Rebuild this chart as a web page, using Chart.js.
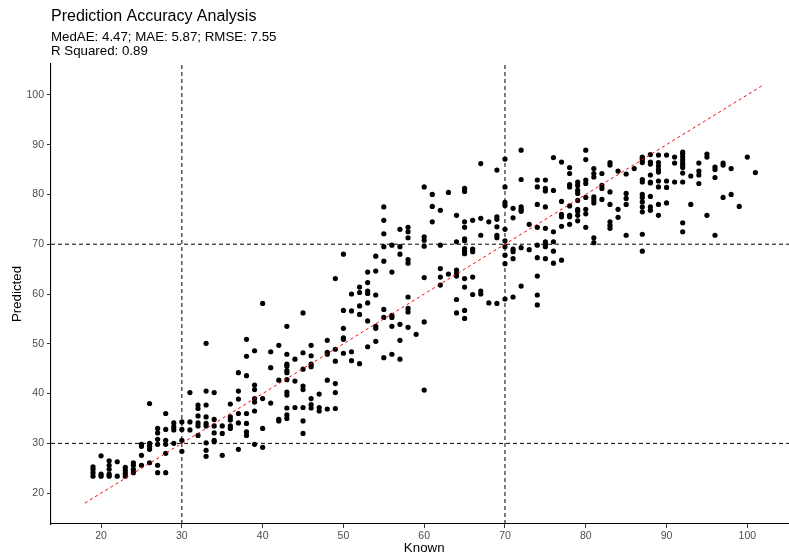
<!DOCTYPE html>
<html>
<head>
<meta charset="utf-8">
<title>Prediction Accuracy Analysis</title>
<script src="https://cdn.jsdelivr.net/npm/chart.js@4.4.1/dist/chart.umd.min.js"></script>
<style>
  html, body { margin: 0; padding: 0; background: #ffffff; overflow: hidden; }
  #wrap { width: 800px; height: 556px; }
  canvas { display: block; }
</style>
</head>
<body>
<div id="wrap"><canvas id="chart" width="800" height="556"></canvas></div>
<script>
// Known values (x) and the predictions recorded at each known value (y)
const knownLevels = [
  19, 20, 21, 22, 23, 24, 25, 26, 27, 28, 29, 30, 31, 32, 33, 34, 35, 36, 37, 38,
  39, 40, 41, 42, 43, 44, 45, 46, 47, 48, 49, 50, 51, 52, 53, 54, 55, 56, 57, 58,
  59, 60, 61, 62, 63, 64, 65, 66, 67, 68, 69, 70, 71, 72, 73, 74, 75, 76, 77, 78,
  79, 80, 81, 82, 83, 84, 85, 86, 87, 88, 89, 90, 91, 92, 93, 94, 95, 96, 97, 98,
  99, 100, 101
];

const predictedByKnown = [
  [25.3, 24.8, 24.1, 23.4],
  [27.5, 23.8, 23.4],
  [26.5, 25.6, 24.8, 23.8, 23.4],
  [26.3, 23.4],
  [25.2, 24.6, 24.0, 23.4],
  [26.1, 25.6, 24.8, 24.1],
  [29.8, 29.4, 27.6, 25.6],
  [38.0, 30.0, 29.4, 28.8, 26.1],
  [33.0, 32.1, 30.8, 29.8, 25.6, 24.1],
  [36.0, 32.8, 30.6, 29.8, 28.0, 24.1],
  [34.1, 33.3, 32.7, 30.0],
  [34.3, 32.8, 30.6, 28.4],
  [40.2, 34.3, 32.7],
  [37.7, 37.0, 35.5, 34.1, 33.5, 31.6],
  [50.1, 40.5, 37.7, 35.3, 34.0, 33.5, 30.1, 28.6, 27.4],
  [40.2, 34.8, 33.5, 32.1, 30.6, 30.3],
  [33.5, 32.0, 27.6],
  [37.9, 35.3, 34.7, 33.5, 33.0],
  [44.2, 40.5, 38.9, 36.0, 34.1, 28.8],
  [50.9, 47.5, 43.6, 36.0, 34.0, 32.3, 31.6],
  [48.6, 41.7, 40.8, 39.0, 38.3, 36.5, 29.8],
  [58.1, 39.0, 33.0, 29.2],
  [48.4, 45.2, 38.1],
  [49.7, 42.7, 34.8, 34.5],
  [53.5, 47.9, 45.9, 45.5, 44.6, 44.2, 42.8, 40.3, 39.7, 37.1, 35.7, 35.0],
  [46.9, 42.5, 37.2],
  [56.2, 48.2, 44.9, 41.5, 40.8, 37.2, 34.5, 32.0],
  [49.7, 47.6, 45.9, 45.4, 39.0, 37.8, 37.1],
  [39.9, 37.2, 36.5],
  [50.7, 48.3, 47.9, 42.7, 36.9],
  [63.1, 48.9, 46.5, 42.0, 40.2, 37.0],
  [68.0, 56.7, 53.1, 51.2, 50.9, 48.1],
  [60.0, 56.6, 48.4, 46.6],
  [61.4, 60.3, 57.6, 55.9, 46.0],
  [64.4, 62.3, 60.6, 60.1, 58.2, 54.6, 49.4],
  [67.6, 64.6, 59.8, 53.5, 53.1, 50.5],
  [77.5, 74.8, 72.1, 69.5, 66.6, 56.9, 55.3, 47.2],
  [69.8, 64.4, 55.7, 55.3, 53.5, 47.9],
  [73.0, 69.5, 68.0, 53.9, 50.7, 46.9],
  [73.4, 72.5, 71.3, 66.9, 66.2, 59.4, 57.1, 56.4, 53.3],
  [51.9],
  [81.5, 71.5, 70.8, 69.6, 63.3, 54.4, 40.7],
  [80.0, 77.6, 74.5],
  [76.8, 69.8, 65.1, 63.4, 61.8],
  [80.4, 64.0],
  [75.8, 70.5, 64.8, 64.1, 63.6, 58.9, 56.2],
  [81.2, 80.6, 74.5, 73.4, 71.1, 70.7, 69.1, 68.6, 68.1, 63.1, 61.4, 56.7, 55.1],
  [74.8, 69.0, 68.5, 63.4, 59.9],
  [86.2, 75.2, 71.8, 60.6, 60.0],
  [74.5, 58.2],
  [84.9, 75.5, 75.0, 73.5, 71.8, 71.3, 58.1],
  [87.1, 81.5, 78.4, 77.8, 73.0, 70.7, 69.5, 67.8, 66.1, 59.0],
  [77.2, 75.3, 69.0, 68.5, 67.1, 59.4],
  [88.9, 83.0, 77.5, 77.0, 76.6, 69.3, 61.6],
  [74.0, 68.9],
  [82.9, 81.5, 78.0, 73.4, 69.8, 67.3, 63.6, 59.8, 57.8],
  [82.9, 81.2, 80.7, 77.5, 73.2, 70.5, 70.0, 69.5, 67.1],
  [87.4, 80.8, 72.5, 70.5, 68.6, 66.2],
  [86.5, 78.6, 76.0, 75.5, 73.6, 66.8],
  [85.4, 84.2, 82.0, 81.5, 77.7, 75.8, 75.5, 74.0],
  [82.5, 81.8, 80.8, 80.2, 78.8, 77.0, 76.6, 75.8, 74.7],
  [88.9, 87.0, 82.9, 82.2, 79.4, 77.0, 76.1, 73.4],
  [85.2, 84.2, 83.5, 79.5, 78.9, 78.3, 71.3, 70.3],
  [84.2, 81.8, 81.2, 79.0],
  [86.4, 85.9, 80.5, 78.0, 74.5, 73.8, 73.2],
  [84.7, 77.0, 75.4],
  [84.1, 80.2, 79.2, 78.0, 71.8],
  [85.2],
  [87.5, 87.2, 86.9, 86.4, 83.0, 82.5, 80.0, 79.4, 78.5, 77.5, 76.5, 72.0, 68.6],
  [88.0, 86.5, 86.1, 83.9, 82.5, 82.3, 79.6, 77.5, 76.8],
  [87.9, 86.4, 85.7, 85.0, 84.5, 82.7, 81.5, 78.0, 75.8],
  [87.9, 82.7, 81.4, 78.3],
  [87.5, 86.3, 82.5],
  [88.5, 88.1, 87.5, 86.9, 86.3, 85.9, 85.4, 84.3, 82.5, 74.3, 72.5],
  [83.7, 78.0],
  [86.3, 84.7, 83.9, 82.2],
  [88.1, 87.5, 75.8],
  [85.5, 85.0, 83.4, 71.8],
  [86.3, 85.9, 79.4],
  [85.2, 80.0],
  [77.6],
  [87.5],
  [84.4]
];

// Reference thresholds and the perfect-prediction line
const knownCutoffs = [30, 70];
const predictedCutoffs = [30, 70];
const identityRange = [18, 102];

// Axis ranges and tick labels
const xRange = [13.8, 106.2];
const yRange = [13.8, 106.2];
const xTicks = [20, 30, 40, 50, 60, 70, 80, 90, 100];
const yTicks = [20, 30, 40, 50, 60, 70, 80, 90, 100];

const titleText = 'Prediction Accuracy Analysis';
const subtitleLines = ['MedAE: 4.47; MAE: 5.87; RMSE: 7.55', 'R Squared: 0.89'];

const FONT = '"Liberation Sans", Arial, "DejaVu Sans", sans-serif';

const points = [];
knownLevels.forEach((k, i) => {
  predictedByKnown[i].forEach(p => points.push({ x: k, y: p }));
});

const dashStyle = {
  showLine: true, pointRadius: 0, pointHoverRadius: 0,
  borderColor: '#000000', borderWidth: 1, borderDash: [4, 3], fill: false
};

const refSets = [];
knownCutoffs.forEach(v => refSets.push(Object.assign({
  data: [{ x: v, y: yRange[0] }, { x: v, y: yRange[1] }]
}, dashStyle)));
predictedCutoffs.forEach(v => refSets.push(Object.assign({
  data: [{ x: xRange[0], y: v }, { x: xRange[1], y: v }]
}, dashStyle)));

const identitySet = {
  data: identityRange.map(v => ({ x: v, y: v })),
  showLine: true, pointRadius: 0, pointHoverRadius: 0,
  borderColor: '#ff0000', borderWidth: 1, borderDash: [3, 3], fill: false
};

const pointSet = {
  data: points,
  pointRadius: 2.6,
  pointHoverRadius: 2.6,
  pointBackgroundColor: '#000000',
  pointBorderWidth: 0,
  showLine: false
};

// Plot title block, drawn above the panel, left-aligned with it
const headerPlugin = {
  id: 'header',
  afterDraw(chart) {
    const ctx = chart.ctx;
    const left = chart.chartArea.left;
    ctx.save();
    ctx.fillStyle = '#000000';
    ctx.textAlign = 'left';
    ctx.textBaseline = 'alphabetic';
    ctx.font = '16px ' + FONT;
    ctx.fillText(titleText, left, 21);
    ctx.font = '13.3px ' + FONT;
    ctx.fillText(subtitleLines[0], left, 41);
    ctx.fillText(subtitleLines[1], left, 55);
    ctx.restore();
  }
};

const tickStyle = { color: '#4d4d4d', font: { family: FONT, size: 10.5 } };

new Chart(document.getElementById('chart'), {
  type: 'scatter',
  data: { datasets: [...refSets, identitySet, pointSet] },
  options: {
    responsive: false,
    animation: false,
    devicePixelRatio: 1,
    layout: { padding: { top: 64, right: 1.5, left: 0, bottom: 0 } },
    plugins: { legend: { display: false }, tooltip: { enabled: false } },
    scales: {
      x: {
        type: 'linear',
        min: xRange[0], max: xRange[1],
        afterBuildTicks(scale) { scale.ticks = xTicks.map(v => ({ value: v })); },
        afterFit(scale) { scale.height = 32; },
        grid: { drawOnChartArea: false, drawTicks: true, tickLength: 4, color: '#333333', lineWidth: 1 },
        border: { display: true, color: '#000000', width: 1.1 },
        ticks: Object.assign({ padding: 2, maxRotation: 0, autoSkip: false }, tickStyle),
        title: { display: true, text: 'Known', color: '#000000',
                 font: { family: FONT, size: 13.3 }, padding: { top: 0, bottom: 0 } }
      },
      y: {
        type: 'linear',
        min: yRange[0], max: yRange[1],
        afterBuildTicks(scale) { scale.ticks = yTicks.map(v => ({ value: v })); },
        afterFit(scale) { scale.width = 51; },
        grid: { drawOnChartArea: false, drawTicks: true, tickLength: 4, color: '#333333', lineWidth: 1 },
        border: { display: true, color: '#000000', width: 1.1 },
        ticks: Object.assign({ padding: 3, autoSkip: false }, tickStyle),
        title: { display: true, text: 'Predicted', color: '#000000',
                 font: { family: FONT, size: 13.3 }, padding: { top: 9, bottom: 0 } }
      }
    }
  },
  plugins: [headerPlugin]
});
</script>
</body>
</html>
